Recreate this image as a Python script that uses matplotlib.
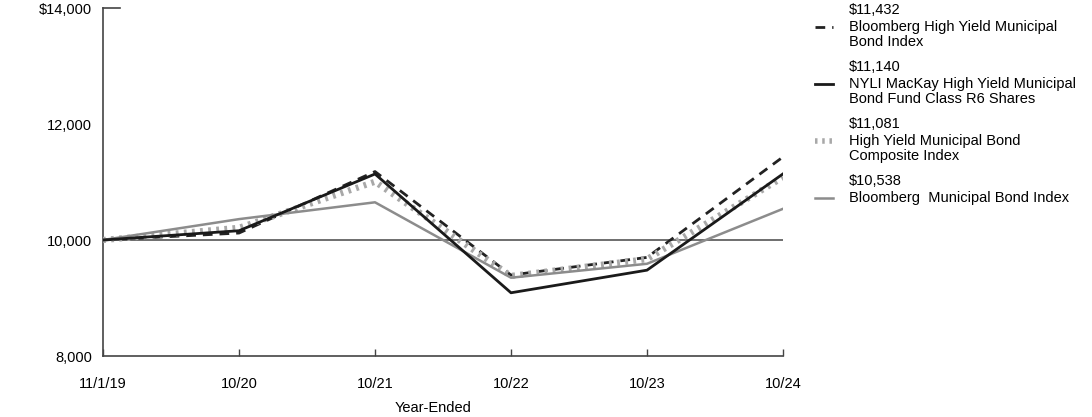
import matplotlib
matplotlib.use("Agg")
import matplotlib.pyplot as plt
from matplotlib.lines import Line2D

plt.rcParams['font.family'] = ['Liberation Sans', 'DejaVu Sans']

categories = ["11/1/19", "10/20", "10/21", "10/22", "10/23", "10/24"]
bb_hy = [10000, 10120, 11180, 9395, 9700, 11432]
fund = [10000, 10160, 11138, 9090, 9480, 11140]
composite = [10000, 10210, 11005, 9380, 9670, 11081]
bb_muni = [10000, 10360, 10650, 9350, 9590, 10538]

legend_values = ["$11,432", "$11,140", "$11,081", "$10,538"]
legend_labels = ["Bloomberg High Yield Municipal\nBond Index",
                 "NYLI MacKay High Yield Municipal\nBond Fund Class R6 Shares",
                 "High Yield Municipal Bond\nComposite Index",
                 "Bloomberg  Municipal Bond Index"]
yticks = [8000, 10000, 12000, 14000]
ytick_labels = ["8,000", "10,000", "12,000", "$14,000"]

FS = 10.5
W, H = 1092, 417
fig = plt.figure(figsize=(W / 100, H / 100), dpi=100)
ax = fig.add_axes([103 / W, 1 - 356 / H, 680 / W, 348 / H])

x = list(range(len(categories)))
styles = [
    dict(color="#222222", lw=2.0, ls=(0, (3.5, 2.5))),
    dict(color="#1a1a1a", lw=2.0, ls="-"),
    dict(color="#a8a8a8", lw=4.5, ls=(0, (0.45, 0.85))),
    dict(color="#8c8c8c", lw=1.8, ls="-"),
]
ax.axhline(10000, color="#555555", lw=1.2, zorder=1)
series = [bb_hy, fund, composite, bb_muni]
order = [3, 2, 0, 1]
for i in order:
    ax.plot(x, series[i], zorder=3 + i if i != 1 else 6, **styles[i])

ax.set_xlim(0, 5)
ax.set_ylim(8000, 14000)
ax.set_xticks(x)
ax.set_xticklabels(categories, fontsize=FS)
ax.set_yticks(yticks)
ax.set_yticklabels(ytick_labels, fontsize=FS)
ax.tick_params(axis='x', direction='in', length=5, width=1, color="#444444", pad=15)
ax.tick_params(axis='y', length=0, pad=8)
for s in ['top', 'right']:
    ax.spines[s].set_visible(False)
for s in ['left', 'bottom']:
    ax.spines[s].set_color("#444444")
    ax.spines[s].set_linewidth(1.2)
ax.axhline(14000, xmin=0, xmax=17 / 680, color="#444444", lw=1.2, clip_on=False)
fig.text(433 / W, 1 - 408 / H, "Year-Ended", fontsize=FS, ha='center', va='center')

# legend
y0 = 10
step = 57
for k in range(4):
    yv = y0 + k * step
    fig.text(849 / W, 1 - yv / H, legend_values[k], fontsize=FS, ha='left', va='center')
    fig.text(849 / W, 1 - (yv + 10) / H, legend_labels[k], fontsize=FS, ha='left', va='top',
             linespacing=1.05)
    st = styles[k]
    lw = st['lw'] if k != 2 else 4.0
    fig.add_artist(Line2D([815 / W, 833 / W], [1 - (yv + 17) / H] * 2, transform=fig.transFigure,
                          color=st['color'], lw=lw, ls=st['ls']))

fig.savefig("out.png", dpi=100)
